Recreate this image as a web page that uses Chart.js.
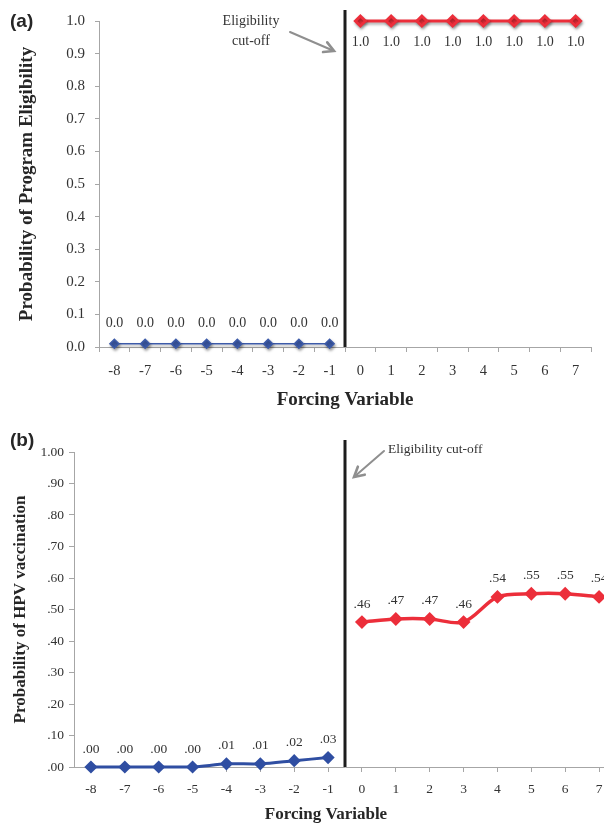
<!DOCTYPE html>
<html>
<head>
<meta charset="utf-8">
<script src="https://cdn.jsdelivr.net/npm/chart.js@4.4.0/dist/chart.umd.min.js"></script>
<style>
html,body{margin:0;padding:0;background:#fff;overflow:hidden;}
#wrap{position:relative;width:604px;height:826px;overflow:hidden;}
#chartA{position:absolute;left:0;top:0;}
#chartB{position:absolute;left:0;top:420px;}
</style>
</head>
<body>
<div id="wrap">
<canvas id="chartA" width="604" height="420"></canvas>
<canvas id="chartB" width="624" height="406"></canvas>
</div>
<script>

// categories (forcing variable)
const forcing = ["-8","-7","-6","-5","-4","-3","-2","-1","0","1","2","3","4","5","6","7"];

// panel (a): probability of program eligibility
const eligBelow = [0.01,0.01,0.01,0.01,0.01,0.01,0.01,0.01];
const eligAbove = [1.0,1.0,1.0,1.0,1.0,1.0,1.0,1.0];

// panel (b): probability of HPV vaccination
const hpvBelow = [0.00,0.00,0.00,0.00,0.01,0.01,0.02,0.03];
const hpvAbove = [0.46,0.47,0.47,0.46,0.54,0.55,0.55,0.54];

const yTicksA = [0,0.1,0.2,0.3,0.4,0.5,0.6,0.7,0.8,0.9,1.0];
const yTicksB = [0,0.1,0.2,0.3,0.4,0.5,0.6,0.7,0.8,0.9,1.0];

const empty = [null,null,null,null,null,null,null,null];

const serif = "'Liberation Serif','Times New Roman',serif";
const sans = "'Liberation Sans',Arial,sans-serif";
const axisGray = "#a6a6a6";
const textGray = "#333333";
const blueA = "#3d5ba9";
const blueB = "#2f4ea2";
const red = "#ec2e3a";


function fmtA(v){
return v.toFixed(1);
}

function fmtB(v){
if(v >= 1) return "1.00";
return v.toFixed(2).replace(/^0/,"");
}


function arrow(ctx,x1,y1,x2,y2){

const ang = Math.atan2(y2-y1,x2-x1);
const head = 11;

ctx.save();
ctx.strokeStyle = "#8f8f8f";
ctx.lineWidth = 2;
ctx.lineCap = "round";
ctx.beginPath();
ctx.moveTo(x1,y1);
ctx.lineTo(x2,y2);
ctx.stroke();

ctx.lineWidth = 2.6;
ctx.beginPath();
ctx.moveTo(x2 - head*Math.cos(ang-0.5), y2 - head*Math.sin(ang-0.5));
ctx.lineTo(x2,y2);
ctx.lineTo(x2 - head*Math.cos(ang+0.5), y2 - head*Math.sin(ang+0.5));
ctx.stroke();
ctx.restore();

}


/* value labels above / below the points */

const pointLabels = {
id:"pointLabels",
afterDatasetsDraw(chart){

const ctx = chart.ctx;

chart.data.datasets.forEach((ds,i)=>{

const meta = chart.getDatasetMeta(i);

ctx.save();
ctx.font = ds.labelFont;
ctx.fillStyle = textGray;
ctx.textAlign = "center";
ctx.textBaseline = "middle";

meta.data.forEach((pt,j)=>{
const v = ds.data[j];
if(v === null || v === undefined) return;
ctx.fillText(ds.labelFormat(v), pt.x, pt.y + ds.labelShift);
});

ctx.restore();

});

}
};


/* cut-off line, arrow, panel letter, x title */

const extras = {
id:"extras",
afterDraw(chart,args,opts){

const ctx = chart.ctx;
const x = chart.scales.x;
const area = chart.chartArea;

const cut = (x.getPixelForValue(7) + x.getPixelForValue(8)) / 2;

ctx.save();
ctx.strokeStyle = "#1c1c1c";
ctx.lineWidth = 3;
ctx.beginPath();
ctx.moveTo(cut,opts.cutTop);
ctx.lineTo(cut,area.bottom);
ctx.stroke();

ctx.fillStyle = "#262626";
ctx.font = "bold 19px " + sans;
ctx.textAlign = "left";
ctx.textBaseline = "middle";
ctx.fillText(opts.letter, 10, opts.letterY);

ctx.fillStyle = textGray;
ctx.font = opts.noteFont;
ctx.textAlign = opts.noteAlign;
opts.note.forEach((line,k)=>{
ctx.fillText(line, opts.noteX, opts.noteY + k*20);
});

arrow(ctx, opts.arrow[0], opts.arrow[1], opts.arrow[2], opts.arrow[3]);

ctx.fillStyle = "#262626";
ctx.font = opts.xTitleFont;
ctx.textAlign = "center";
ctx.fillText("Forcing Variable", opts.xTitleX, opts.xTitleY);

ctx.restore();

}
};


/* light shadow under panel (a) markers */

const shadow = {
id:"shadow",
beforeDatasetsDraw(chart,args,opts){
if(!opts.on) return;
chart.ctx.save();
chart.ctx.shadowColor = "rgba(0,0,0,0.35)";
chart.ctx.shadowBlur = 3;
chart.ctx.shadowOffsetX = 1;
chart.ctx.shadowOffsetY = 2;
},
afterDatasetsDraw(chart,args,opts){
if(!opts.on) return;
chart.ctx.restore();
}
};


function yAxis(ticks,fmt,width,tickFont,title,titleFont,titlePad,tickLen,tickPad){

return {
min:0,
max:1,
afterFit(scale){ scale.width = width; },
afterBuildTicks(scale){ scale.ticks = ticks.map(v=>({value:v})); },
border:{color:axisGray,width:1},
grid:{drawOnChartArea:false,color:axisGray,tickLength:tickLen},
ticks:{
color:textGray,
padding:tickPad,
font:{family:serif,size:tickFont},
callback:v=>fmt(v)
},
title:{
display:true,
text:title,
color:"#262626",
padding:{top:titlePad,bottom:0},
font:{family:serif,size:titleFont,weight:"bold"}
}
};

}


function xAxis(height,gridOffset,tickFont,tickPad){

return {
type:"category",
offset:true,
afterFit(scale){ scale.height = height; },
border:{color:axisGray,width:1},
grid:{offset:gridOffset,drawOnChartArea:false,color:axisGray,tickLength:5},
ticks:{
color:textGray,
padding:tickPad,
maxRotation:0,
autoSkip:false,
font:{family:serif,size:tickFont}
}
};

}


new Chart(document.getElementById("chartA"),{
type:"line",
data:{
labels:forcing,
datasets:[
{
data:[...eligBelow,...empty],
borderColor:blueA,
backgroundColor:blueA,
borderWidth:1.5,
pointStyle:"rectRot",
pointRadius:4.5,
tension:0,
clip:false,
labelFont:"14px " + serif,
labelShift:-20,
labelFormat:fmtA
},
{
data:[...empty,...eligAbove],
borderColor:red,
backgroundColor:red,
borderWidth:3,
pointStyle:"rectRot",
pointRadius:5,
tension:0,
clip:false,
labelFont:"14px " + serif,
labelShift:21,
labelFormat:fmtA
}
]
},
options:{
responsive:false,
animation:false,
layout:{padding:{left:0,top:21,right:13,bottom:0}},
plugins:{
legend:{display:false},
tooltip:{enabled:false},
shadow:{on:true},
extras:{
cutTop:10,
letter:"(a)",
letterY:22,
note:["Eligibility","cut-off"],
noteFont:"14px " + serif,
noteAlign:"center",
noteX:251,
noteY:21,
arrow:[290,32,334,51],
xTitleFont:"bold 19px " + serif,
xTitleX:345,
xTitleY:400
}
},
scales:{
x:xAxis(73,true,14.5,10),
y:yAxis(yTicksA,fmtA,99,15,"Probability of Program Eligibility",19,16,4,10)
}
},
plugins:[shadow,pointLabels,extras]
});


new Chart(document.getElementById("chartB"),{
type:"line",
data:{
labels:forcing,
datasets:[
{
data:[...hpvBelow,...empty],
borderColor:blueB,
backgroundColor:blueB,
borderWidth:3,
pointStyle:"rectRot",
pointRadius:4.5,
tension:0.3,
clip:false,
labelFont:"13.5px " + serif,
labelShift:-18,
labelFormat:fmtB
},
{
data:[...empty,...hpvAbove],
borderColor:red,
backgroundColor:red,
borderWidth:3.5,
pointStyle:"rectRot",
pointRadius:4.5,
tension:0.3,
clip:false,
labelFont:"13.5px " + serif,
labelShift:-18,
labelFormat:fmtB
}
]
},
options:{
responsive:false,
animation:false,
layout:{padding:{left:0,top:32,right:5,bottom:0}},
plugins:{
legend:{display:false},
tooltip:{enabled:false},
shadow:{on:false},
extras:{
cutTop:20,
letter:"(b)",
letterY:21,
note:["Eligibility cut-off"],
noteFont:"13.5px " + serif,
noteAlign:"left",
noteX:388,
noteY:29,
arrow:[384,31,354,57],
xTitleFont:"bold 17px " + serif,
xTitleX:326,
xTitleY:395
}
},
scales:{
x:xAxis(59,false,13.5,9),
y:yAxis(yTicksB,fmtB,74,13.5,"Probability of HPV vaccination",17,10,5,5)
}
},
plugins:[shadow,pointLabels,extras]
});

</script>
</body>
</html>
